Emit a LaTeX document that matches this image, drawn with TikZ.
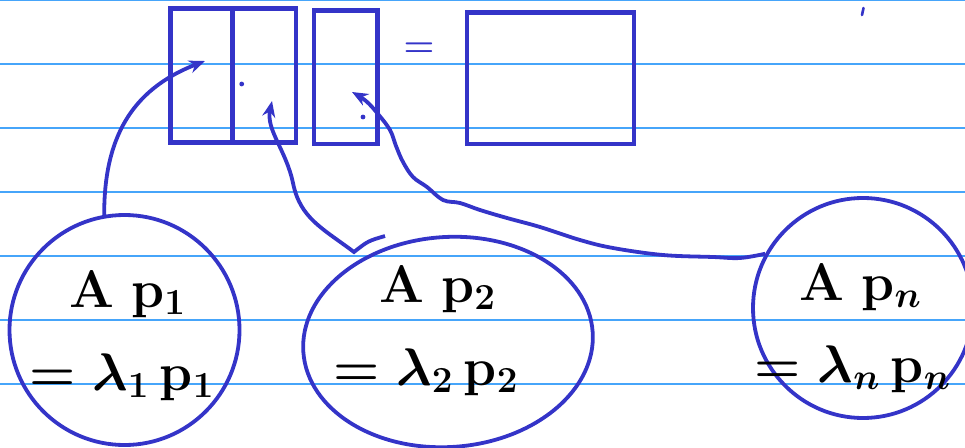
\documentclass[tikz,border=0pt]{standalone}
\usepackage{amsmath}
\usepackage{amssymb}
\usetikzlibrary{arrows.meta, shapes.geometric}
\definecolor{ink}{RGB}{52,52,200}
\definecolor{ruleblue}{RGB}{70,165,250}

\begin{document}
\begin{tikzpicture}[x=1pt, y=-1pt, >={Stealth[length=16pt, width=13pt]},
        mat/.style={draw=ink, line width=4.2pt, inner sep=0pt},
        ring/.style={draw=ink, line width=3.8pt, inner sep=0pt},
        eqn/.style={anchor=base, font=\huge\boldmath, scale=2.55, transform shape},
        link/.style={->, draw=ink, line width=3.8pt}]
        \clip (0,0) rectangle (965,447);
        \foreach \y in {0.7, 64, 128, 192, 256, 320, 384}
            \draw[ruleblue, line width=1.4pt] (0,\y) -- (965,\y);
        % matrices
        \node[mat, minimum width=62pt, minimum height=134pt] (v1) at (201.5,75.5) {};
        \node[mat, minimum width=63.5pt, minimum height=134pt] (v2) at (264.25,75.5) {};
        \node[mat, minimum width=63.5pt, minimum height=133.5pt] (vn) at (345.75,77.25) {};
        \node[text=ink, font=\huge\boldmath, scale=1.7, transform shape] (is) at (419,50) {$=$};
        \node[mat, minimum width=167pt, minimum height=131.5pt] (res) at (550.5,78.25) {};
        \fill[ink] (241.7,84) circle (2.4pt);
        \fill[ink] (363,117) circle (2.4pt);
        \draw[ink, line width=2.6pt, line cap=round] (863.5,8) -- (862,15);
        % eigen equations
        \node[ring, circle, minimum size=230pt] (c1) at (124.5,330) {};
        \node[ring, ellipse, rotate=4, minimum width=290pt, minimum height=210pt] (c2) at (448,342) {};
        \node[ring, circle, minimum size=220pt] (cn) at (863,308) {};
        \node[eqn] (a1) at (128,307) {$\mathbf{A}\;\mathbf{p}_1$};
        \node[eqn] (b1) at (122,390) {$=\lambda_1\,\mathbf{p}_1$};
        \node[eqn] (a2) at (438,302) {$\mathbf{A}\;\mathbf{p}_2$};
        \node[eqn] (b2) at (426,385) {$=\lambda_2\,\mathbf{p}_2$};
        \node[eqn] (an) at (861,300) {$\mathbf{A}\;\mathbf{p}_n$};
        \node[eqn] (bn) at (853,382) {$=\lambda_n\,\mathbf{p}_n$};
        % arrows into the columns
        \coordinate (t1) at (205,61);
        \coordinate (t2) at (272,101);
        \coordinate (tn) at (352,92);
        \coordinate (h2) at (385,236);
        \draw[link] (c1.100) .. controls (104,140) and (130,90) .. (t1);
        \draw[link] (h2) .. controls (368,241) .. (354,252)
            .. controls (322,228) and (300,218) .. (293,183)
            .. controls (286,150) and (266,130) .. (t2);
        \draw[link] plot[smooth, tension=0.6] coordinates {(cn.151) (740,258) (713,257) (663,255)
            (613,248) (580,240) (540,227) (507,218) (480,210) (460,203) (443,200) (427,187)
            (413,177) (403,162) (396,146) (390,130) (378,114) (366,101) (tn)};
\end{tikzpicture}
\end{document}
